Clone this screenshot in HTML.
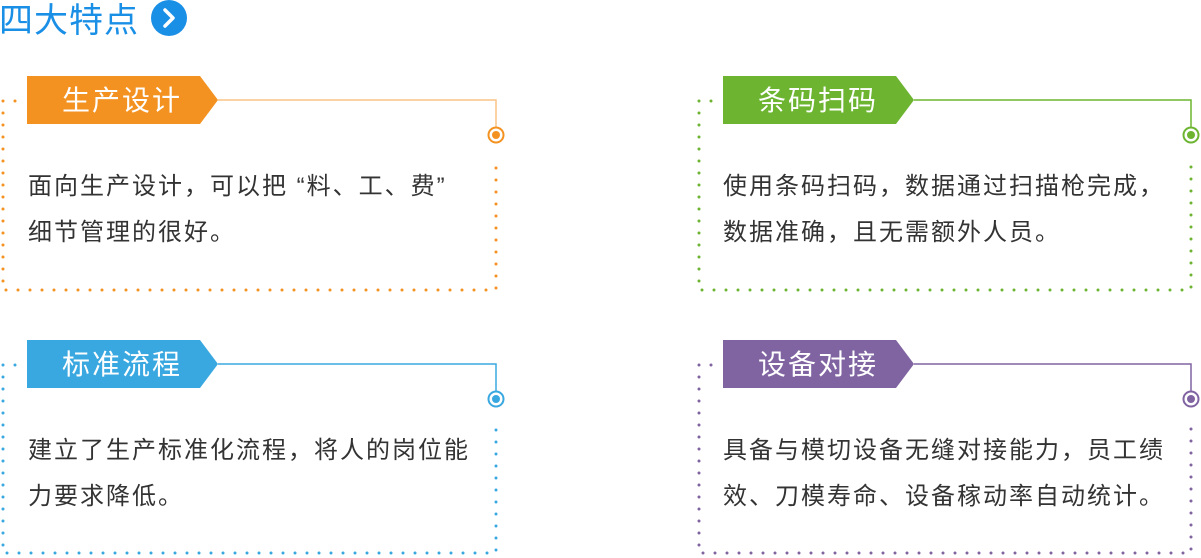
<!DOCTYPE html>
<html><head><meta charset="utf-8"><style>
html,body{margin:0;padding:0;background:#fff;width:1201px;height:558px;overflow:hidden}
svg{display:block}
text{font-family:"Liberation Sans","Noto Sans CJK SC",sans-serif}
.b{font-size:24px;letter-spacing:2px;fill:#333}
.t{font-size:28px;letter-spacing:2px;fill:#fff}
</style></head><body>
<svg width="1201" height="558" viewBox="0 0 1201 558" xmlns="http://www.w3.org/2000/svg">
<text x="-1" y="32" font-size="34" fill="#1a8fe6" letter-spacing="1">四大特点</text>
<circle cx="169" cy="18" r="18" fill="#1a8fe6"/>
<path d="M165 10 L173 18 L165 26" stroke="#fff" stroke-width="3.5" fill="none" stroke-linecap="round" stroke-linejoin="round"/>

<g>
<g stroke="#f39220" fill="none">
<path d="M3 101 L25 101 M3 101 L3 290 L496 290 L496 157" stroke-width="3" stroke-dasharray="0 12" stroke-linecap="round"/>
<path d="M218 100 L496 100 L496 128" stroke-width="1.5" stroke="#f8c486"/>
<circle cx="496" cy="135" r="7.5" stroke-width="2"/>
</g>
<circle cx="496" cy="135" r="4" fill="#f39220"/>
<path d="M27 76 L200 76 L218 100 L200 124 L27 124 Z" fill="#f39220"/>
<text x="62" y="110" class="t">生产设计</text>
<text x="28" y="194" class="b">面向生产设计，可以把 “料、工、费”</text>
<text x="28" y="240" class="b">细节管理的很好。</text>
</g>

<g>
<g stroke="#6db531" fill="none">
<path d="M699 101 L721 101 M699 101 L699 290 L1191 290 L1191 157" stroke-width="3" stroke-dasharray="0 12" stroke-linecap="round"/>
<path d="M914 100 L1191 100 L1191 128" stroke-width="1.5"/>
<circle cx="1191" cy="135" r="7.5" stroke-width="2"/>
</g>
<circle cx="1191" cy="135" r="4" fill="#6db531"/>
<path d="M723 76 L896 76 L914 100 L896 124 L723 124 Z" fill="#6db531"/>
<text x="758" y="110" class="t">条码扫码</text>
<text x="723" y="194" class="b">使用条码扫码，数据通过扫描枪完成，</text>
<text x="723" y="240" class="b">数据准确，且无需额外人员。</text>
</g>

<g>
<g stroke="#3aa8e0" fill="none">
<path d="M3 365 L25 365 M3 365 L3 553 L496 553 L496 421" stroke-width="3" stroke-dasharray="0 12" stroke-linecap="round"/>
<path d="M218 364 L496 364 L496 392" stroke-width="1.5"/>
<circle cx="496" cy="399" r="7.5" stroke-width="2"/>
</g>
<circle cx="496" cy="399" r="4" fill="#3aa8e0"/>
<path d="M27 340 L200 340 L218 364 L200 388 L27 388 Z" fill="#3aa8e0"/>
<text x="62" y="374" class="t">标准流程</text>
<text x="28" y="458" class="b">建立了生产标准化流程，将人的岗位能</text>
<text x="28" y="504" class="b">力要求降低。</text>
</g>

<g>
<g stroke="#8064a2" fill="none">
<path d="M699 365 L721 365 M699 365 L699 553 L1191 553 L1191 421" stroke-width="3" stroke-dasharray="0 12" stroke-linecap="round"/>
<path d="M914 364 L1191 364 L1191 392" stroke-width="1.5"/>
<circle cx="1191" cy="399" r="7.5" stroke-width="2"/>
</g>
<circle cx="1191" cy="399" r="4" fill="#8064a2"/>
<path d="M723 340 L896 340 L914 364 L896 388 L723 388 Z" fill="#8064a2"/>
<text x="758" y="374" class="t">设备对接</text>
<text x="723" y="458" class="b">具备与模切设备无缝对接能力，员工绩</text>
<text x="723" y="504" class="b">效、刀模寿命、设备稼动率自动统计。</text>
</g>
</svg>
</body></html>
